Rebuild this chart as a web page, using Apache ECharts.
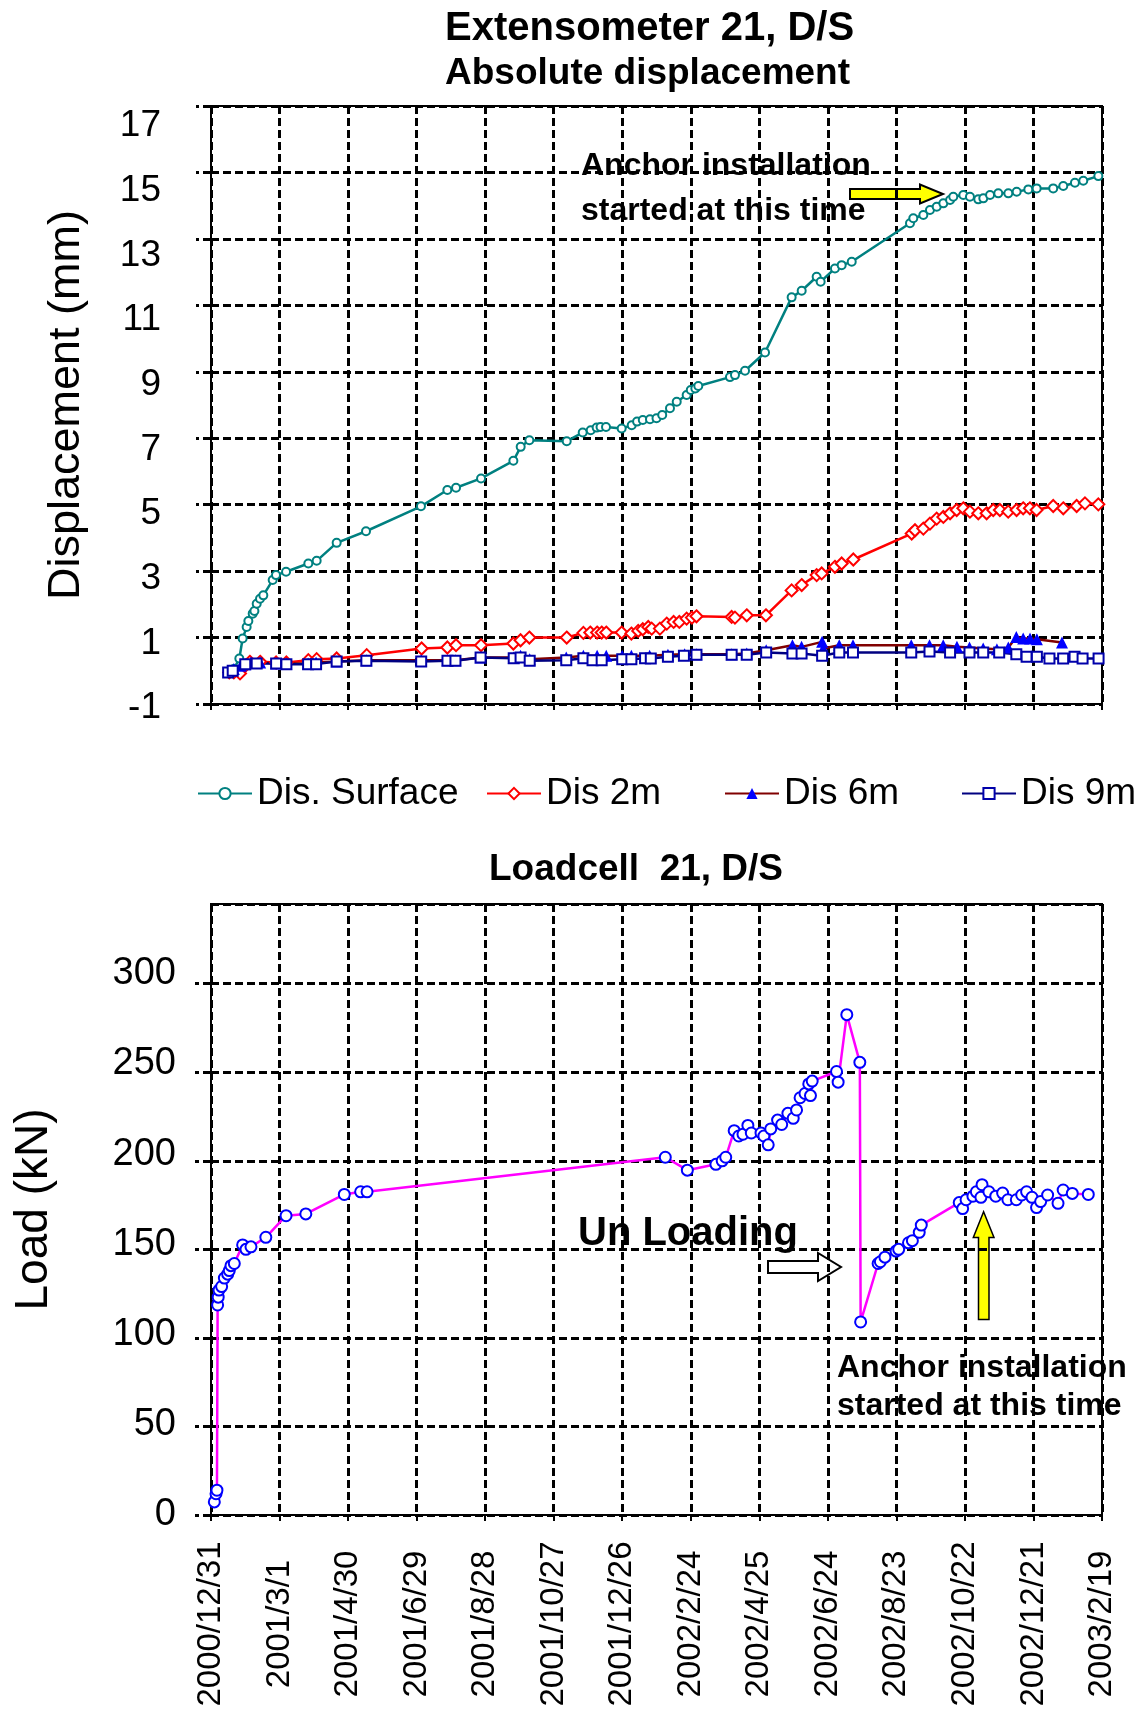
<!DOCTYPE html>
<html>
<head>
<meta charset="UTF-8">
<title>Extensometer 21 / Loadcell 21, D/S</title>
<style>
  html, body { margin: 0; padding: 0; background: #fff; }
  #chart { width: 1143px; height: 1716px; }
</style>
</head>
<body>
<div id="chart"></div>
<script src="https://cdn.jsdelivr.net/npm/echarts@6/dist/echarts.min.js"></script>
<script>
// x values are days counted from 2000/12/31, ticks every 60 days
var tickLabels = ['2000/12/31', '2001/3/1', '2001/4/30', '2001/6/29', '2001/8/28', '2001/10/27', '2001/12/26',
  '2002/2/24', '2002/4/25', '2002/6/24', '2002/8/23', '2002/10/22', '2002/12/21', '2003/2/19'];

var surfaceDays = [20, 24.8, 27.7, 31.2, 32.7, 36.5, 38, 40, 42.9, 45.8, 54, 56.9, 65.7, 85.2, 92.5, 110, 135.7, 183.8,
  206.9, 214.5, 236.4, 264.7, 271.1, 278.7, 311.4, 325.4, 332.4, 337.6, 341, 345.8, 359.5, 368.3, 373, 378, 384.3,
  390, 395, 401.8, 407.7, 416.4, 420, 424, 426.6, 454.3, 458.7, 467.5, 485, 508.3, 517.1, 530.2, 533.7, 546.2,
  552.1, 560.9, 611.9, 614.8, 623.6, 629.4, 635.3, 641.1, 647, 649.8, 658.6, 664.4, 671.7, 676.1, 682, 689.2,
  698, 705.3, 715.5, 722.8, 737.3, 746.1, 756.3, 763.6, 776.8];
var surfaceMm = [0.05, 0.37, 0.97, 1.32, 1.5, 1.72, 1.8, 2.02, 2.17, 2.27, 2.73, 2.88, 2.98, 3.23, 3.31, 3.85, 4.2, 4.95,
  5.44, 5.51, 5.79, 6.32, 6.74, 6.94, 6.91, 7.17, 7.24, 7.32, 7.34, 7.34, 7.29, 7.39, 7.5, 7.55, 7.57,
  7.6, 7.7, 7.9, 8.1, 8.3, 8.45, 8.5, 8.57, 8.84, 8.9, 9.03, 9.58, 11.24, 11.44, 11.86, 11.71, 12.11,
  12.21, 12.31, 13.47, 13.62, 13.72, 13.87, 13.97, 14.07, 14.17, 14.27, 14.32, 14.27, 14.19, 14.22, 14.32, 14.37,
  14.37, 14.42, 14.49, 14.52, 14.52, 14.59, 14.69, 14.75, 14.89];

var dis2Days = [16, 20, 25.4, 30, 34, 43, 57, 66, 85.2, 92.5, 110, 136.3, 184.4, 206.9, 214.5, 236.4, 264.7, 271,
  278.7, 311.4, 326, 332, 338, 342, 346, 359.5, 368, 374, 378, 382.8, 385.8, 393, 399, 405, 410, 416.4, 421, 425,
  455.8, 458.7, 469, 485.8, 508.3, 517.1, 530.2, 534.6, 546.2, 552.1, 562.3, 613.4, 616.3, 623.6, 629.4, 635.3,
  641.1, 647, 652.8, 658.6, 664.4, 671.7, 679, 684.8, 690.6, 697.9, 705.2, 711, 716.9, 722.7, 737.3, 746.1,
  757.8, 765.1, 776.8];
var dis2Mm = [-0.05, -0.05, -0.08, 0.15, 0.27, 0.27, 0.25, 0.25, 0.32, 0.35, 0.37, 0.47, 0.67, 0.7, 0.77, 0.77, 0.82, 0.92,
  1.0, 1.0, 1.14, 1.15, 1.15, 1.15, 1.15, 1.15, 1.12, 1.2, 1.25, 1.32, 1.27, 1.27, 1.42, 1.47, 1.47, 1.57, 1.6, 1.64,
  1.62, 1.6, 1.67, 1.67, 2.42, 2.58, 2.88, 2.93, 3.13, 3.23, 3.35, 4.13, 4.23, 4.28, 4.43, 4.58,
  4.63, 4.74, 4.84, 4.89, 4.79, 4.74, 4.74, 4.84, 4.84, 4.79, 4.84, 4.89, 4.89, 4.84, 4.96, 4.89,
  4.96, 5.04, 5.01];

var dis6Days = [16, 20, 26, 30, 35, 43, 57, 66, 85, 92, 110, 136, 184, 207, 214, 236, 265, 271, 279, 311, 326, 338,
  346, 360, 368, 384, 400, 414.6, 425, 455.8, 469, 486, 509, 517, 535, 536, 550, 562, 613, 629, 641, 653, 664,
  676, 688, 698, 705, 711, 717, 723, 745];
var dis6Mm = [0.0, 0.05, 0.15, 0.2, 0.25, 0.25, 0.22, 0.22, 0.22, 0.25, 0.28, 0.32, 0.32, 0.32, 0.32, 0.4, 0.4, 0.45, 0.35,
  0.4, 0.45, 0.45, 0.45, 0.45, 0.45, 0.45, 0.48, 0.5, 0.5, 0.5, 0.52, 0.62, 0.77, 0.72, 0.87, 0.67, 0.77, 0.77,
  0.77, 0.77, 0.77, 0.72, 0.7, 0.67, 0.65, 0.7, 1.02, 0.97, 0.97, 0.95, 0.85];

var dis9Days = [15, 19, 30, 40, 57, 66, 85, 92, 110, 136, 184, 207, 214, 236, 265, 271, 279, 311, 326, 334, 342, 360,
  368, 380, 385, 400, 414, 425, 455.8, 469, 486, 509, 517, 535, 550, 562, 613, 629, 647, 664, 676, 690, 705, 714,
  723, 734, 746, 756, 763, 777];
var dis9Mm = [-0.05, 0.0, 0.2, 0.22, 0.22, 0.2, 0.2, 0.2, 0.28, 0.3, 0.28, 0.3, 0.3, 0.4, 0.38, 0.4, 0.3, 0.32, 0.38, 0.32,
  0.32, 0.35, 0.35, 0.38, 0.37, 0.42, 0.45, 0.48, 0.48, 0.48, 0.55, 0.52, 0.52, 0.45, 0.55, 0.55, 0.55, 0.58, 0.55,
  0.55, 0.55, 0.55, 0.5, 0.42, 0.42, 0.37, 0.37, 0.42, 0.37, 0.37];

var loadDays = [2.9, 4.4, 5.2, 5.8, 6.3, 7, 9.3, 11.7, 14.6, 16, 17.5, 20.4, 27.7, 30.6, 35, 48, 65.7, 83, 116.7, 131,
  136.6, 397.7, 417, 442, 447.5, 450.6, 458, 462, 465.7, 470, 473, 481.5, 484, 487.8, 490, 496, 499.6, 505, 509.7,
  512.6, 515.7, 520, 523.3, 524.8, 526.3, 547.6, 549, 556.6, 568, 568.7, 584, 586, 590, 599.7, 602, 610.6, 614,
  620, 621.8, 655, 658, 661, 667, 670, 674, 675, 681, 687, 693, 697.6, 705, 709.7, 714, 718.7, 722.7, 726.3,
  732.4, 741.5, 746, 754, 768];
var loadKn = [7.4, 12, 14, 118.6, 123, 127, 129, 133.8, 136, 138, 140.8, 142, 152.5, 150, 151.4, 156.8, 169, 170, 181, 182.5,
  182.5, 202, 194.7, 198, 200, 202, 217, 214, 215, 220, 215.7, 215.7, 214, 209, 218, 223, 220.5, 226.8, 224,
  228.7, 235.6, 238, 243.4, 236.8, 245, 250.4, 244.4, 282.5, 255.6, 109, 142, 143, 145.6, 149, 150, 153.7, 154.9,
  159.6, 163.7, 176.4, 173, 178, 180, 182.5, 179.4, 186.5, 182.5, 180, 181.8, 178, 178, 180.7, 182.5, 179.4, 173.6, 177,
  180.7, 176, 183.5, 181.6, 181];

var FONT = '"Liberation Sans", Arial, sans-serif';

function pairs(xs, ys) {
  return xs.map(function (x, i) { return [x, ys[i]]; });
}

var gridDash = { color: '#000', width: 3, type: [8, 4] };
var axisBlack = { onZero: false, lineStyle: { color: '#000', width: 2 } };

function xAxisFor(gridIndex, showLabels) {
  return {
    gridIndex: gridIndex,
    type: 'value',
    min: 0,
    max: 780,
    interval: 60,
    axisLine: axisBlack,
    axisTick: { length: 6, lineStyle: { color: '#000', width: 2 } },
    splitLine: { show: true, lineStyle: gridDash },
    axisLabel: {
      show: showLabels,
      rotate: 90,
      align: 'center',
      verticalAlign: 'middle',
      margin: 109,
      fontSize: 33,
      fontFamily: FONT,
      color: '#000',
      formatter: function (v) { return tickLabels[Math.round(v / 60)]; }
    }
  };
}

// the original's value labels sit a little off their grid lines; nudge each one
var dispRich = {};
for (var k = 0; k <= 9; k++) {
  var down = 4 + k * 2 * 16 / 18;
  dispRich['y' + k] = { fontSize: 37, color: '#000', fontFamily: FONT, lineHeight: 2 * down };
}
var loadRich = {};
for (var j = 0; j <= 6; j++) {
  var up = j * 50 / 300 * 10;
  loadRich['y' + j] = { fontSize: 38, color: '#000', fontFamily: FONT, lineHeight: Math.max(1, 2 * up) };
}

var chart = echarts.init(document.getElementById('chart'));

chart.setOption({
  animation: false,
  backgroundColor: '#fff',
  textStyle: { fontFamily: FONT },
  title: [{
    text: 'Extensometer 21, D/S',
    left: 445,
    top: 6,
    padding: 0,
    textStyle: { fontSize: 40, fontWeight: 'bold', color: '#000', lineHeight: 45, fontFamily: FONT }
  }, {
    text: 'Absolute displacement',
    left: 445,
    top: 51,
    padding: 0,
    textStyle: { fontSize: 37, fontWeight: 'bold', color: '#000', lineHeight: 45, fontFamily: FONT }
  }, {
    text: 'Loadcell  21, D/S',
    left: 489,
    top: 847,
    padding: 0,
    textStyle: { fontSize: 37, fontWeight: 'bold', color: '#000', lineHeight: 45, fontFamily: FONT }
  }],
  legend: [
    { data: ['Dis. Surface'], left: 197 },
    { data: ['Dis 2m'], left: 486 },
    { data: ['Dis 6m'], left: 724 },
    { data: ['Dis 9m'], left: 961 }
  ].map(function (l) {
    l.top = 775;
    l.padding = 0;
    l.itemWidth = 54;
    l.itemHeight = 14;
    l.selectedMode = false;
    l.textStyle = { fontSize: 37, color: '#000', fontFamily: FONT };
    return l;
  }),
  grid: [
    { left: 211, top: 106, width: 891, height: 598, show: true, borderColor: '#000', borderWidth: 2 },
    { left: 211, top: 904, width: 891, height: 611, show: true, borderColor: '#000', borderWidth: 2 }
  ],
  xAxis: [xAxisFor(0, false), xAxisFor(1, true)],
  yAxis: [{
    gridIndex: 0,
    type: 'value',
    min: -1,
    max: 17,
    interval: 2,
    name: 'Displacement (mm)',
    nameLocation: 'middle',
    nameGap: 122,
    nameTextStyle: { fontSize: 45, color: '#000', fontFamily: FONT },
    axisLine: axisBlack,
    axisTick: { length: 15, lineStyle: gridDash },
    splitLine: { show: true, lineStyle: gridDash },
    axisLabel: {
      fontSize: 37, margin: 50, color: '#000', fontFamily: FONT,
      verticalAlign: 'top',
      rich: dispRich,
      formatter: function (v) { return '{y' + Math.round((v + 1) / 2) + '|' + v + '}'; }
    }
  }, {
    gridIndex: 1,
    type: 'value',
    min: 0,
    max: 345,
    interval: 50,
    name: 'Load (kN)',
    nameLocation: 'middle',
    nameGap: 154,
    nameTextStyle: { fontSize: 46, color: '#000', fontFamily: FONT },
    axisLine: axisBlack,
    axisTick: { length: 16, lineStyle: gridDash },
    splitLine: { show: true, lineStyle: gridDash },
    axisLabel: {
      fontSize: 38, margin: 35, color: '#000', fontFamily: FONT, showMaxLabel: false,
      verticalAlign: 'bottom',
      rich: loadRich,
      formatter: function (v) { return '{y' + Math.round(v / 50) + '|' + v + '}'; }
    }
  }],
  series: [{
    name: 'Dis. Surface',
    type: 'line',
    xAxisIndex: 0,
    yAxisIndex: 0,
    data: pairs(surfaceDays, surfaceMm),
    symbol: 'emptyCircle',
    symbolSize: 8,
    lineStyle: { color: '#008080', width: 2.5 },
    itemStyle: { color: '#008080', borderWidth: 2 }
  }, {
    name: 'Dis 2m',
    type: 'line',
    xAxisIndex: 0,
    yAxisIndex: 0,
    data: pairs(dis2Days, dis2Mm),
    symbol: 'emptyDiamond',
    symbolSize: 12,
    lineStyle: { color: '#FF0000', width: 2.5 },
    itemStyle: { color: '#FF0000', borderWidth: 2.5 }
  }, {
    name: 'Dis 6m',
    type: 'line',
    xAxisIndex: 0,
    yAxisIndex: 0,
    data: pairs(dis6Days, dis6Mm),
    symbol: 'triangle',
    symbolSize: 12,
    lineStyle: { color: '#800000', width: 2.5 },
    itemStyle: { color: '#0000FF' }
  }, {
    name: 'Dis 9m',
    type: 'line',
    xAxisIndex: 0,
    yAxisIndex: 0,
    data: pairs(dis9Days, dis9Mm),
    symbol: 'emptyRect',
    symbolSize: 10,
    lineStyle: { color: '#000080', width: 2.5 },
    itemStyle: { color: '#0000AA', borderWidth: 2.5 }
  }, {
    name: 'Load',
    type: 'line',
    xAxisIndex: 1,
    yAxisIndex: 1,
    data: pairs(loadDays, loadKn),
    symbol: 'emptyCircle',
    symbolSize: 11,
    lineStyle: { color: '#FF00FF', width: 2.5 },
    itemStyle: { color: '#0000FF', borderWidth: 2.5 }
  }],
  graphic: [
    { type: 'text', left: 581, top: 150, style: { text: 'Anchor installation', font: 'bold 32px ' + FONT, fill: '#000' } },
    { type: 'text', left: 581, top: 195, style: { text: 'started at this time', font: 'bold 32px ' + FONT, fill: '#000' } },
    {
      type: 'polygon',
      shape: { points: [[850, 189], [920, 189], [920, 184.5], [943, 194], [920, 203.5], [920, 199], [850, 199]] },
      style: { fill: '#FFFF00', stroke: '#000', lineWidth: 2 }
    },
    { type: 'text', left: 578, top: 1214, style: { text: 'Un Loading', font: 'bold 40px ' + FONT, fill: '#000' } },
    {
      type: 'polygon',
      shape: { points: [[768, 1261], [818, 1261], [818, 1253], [841, 1267], [818, 1281], [818, 1273], [768, 1273]] },
      style: { fill: '#fff', stroke: '#000', lineWidth: 2 }
    },
    { type: 'text', left: 837, top: 1352, style: { text: 'Anchor installation', font: 'bold 32px ' + FONT, fill: '#000' } },
    { type: 'text', left: 837, top: 1390, style: { text: 'started at this time', font: 'bold 32px ' + FONT, fill: '#000' } },
    {
      type: 'polygon',
      shape: { points: [[983.6, 1211.7], [994, 1237.4], [989, 1237.4], [989, 1319.5], [978.5, 1319.5], [978.5, 1237.4], [973.3, 1237.4]] },
      style: { fill: '#FFFF00', stroke: '#000', lineWidth: 1.5 }
    }
  ]
});
</script>
</body>
</html>
